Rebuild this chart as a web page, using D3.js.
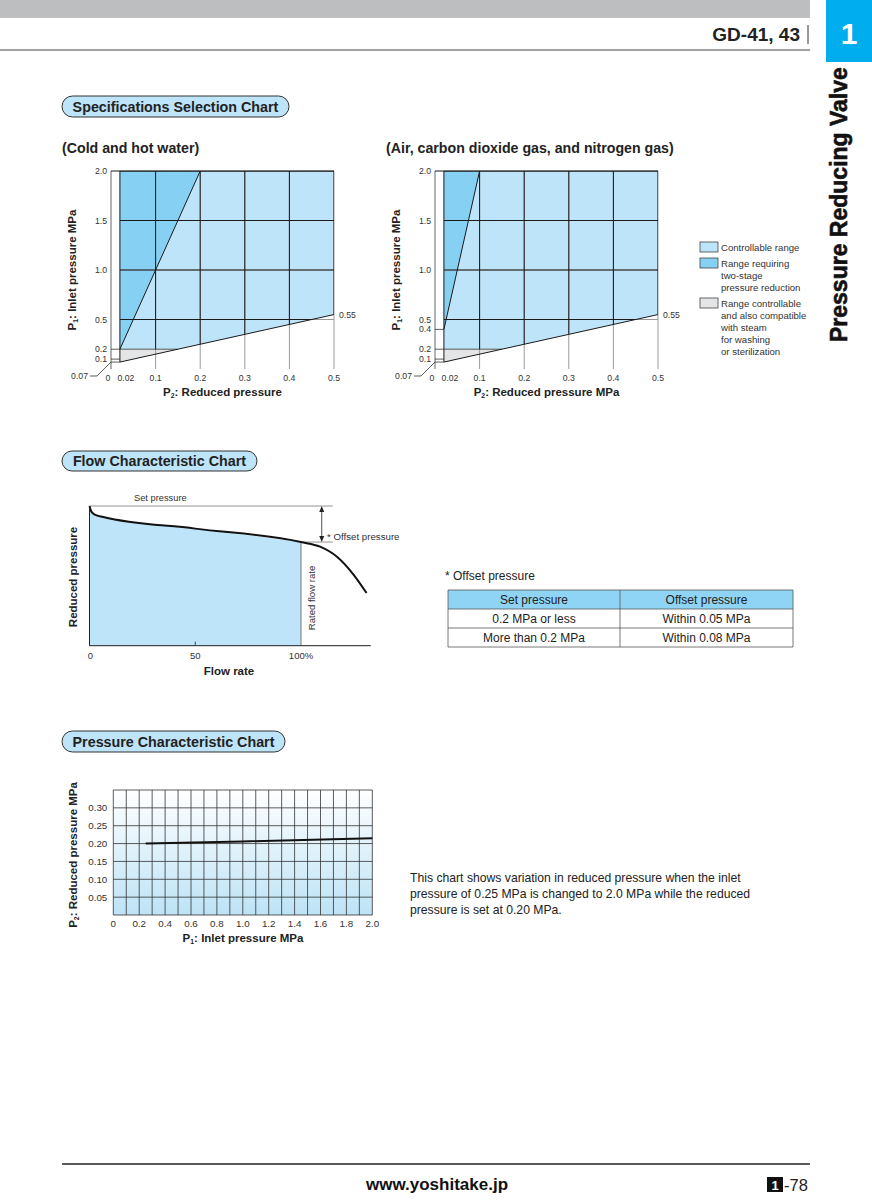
<!DOCTYPE html>
<html>
<head>
<meta charset="utf-8">
<script src="https://cdn.jsdelivr.net/npm/d3@7"></script>
<style>
  body { margin: 0; background: #fff; }
  svg { display: block; font-family: "Liberation Sans", Arial, sans-serif; }
</style>
</head>
<body>
<svg id="page" width="872" height="1200"></svg>
<script>
// ---- данные ----
const specTicksX = [0, 0.02, 0.1, 0.2, 0.3, 0.4, 0.5];
const specGridX = [0.1, 0.2, 0.3, 0.4, 0.5];
const specGridY = [0.5, 1.0, 1.5, 2.0];
const waterTicksY = [0.1, 0.2, 0.5, 1.0, 1.5, 2.0];
const gasTicksY = [0.1, 0.2, 0.4, 0.5, 1.0, 1.5, 2.0];

// границы областей (P2, P1)
const lowerLine = [[0.02, 0.07], [0.5, 0.55]];
const controllable = [[0.02, 0.2], [0.02, 2.0], [0.5, 2.0], [0.5, 0.55], [0.15, 0.2]];
const steamRange = [[0.02, 0.07], [0.02, 0.2], [0.15, 0.2]];
const waterTwoStage = [[0.02, 0.2], [0.02, 2.0], [0.2, 2.0]];
const gasTwoStage = [[0.02, 0.4], [0.02, 2.0], [0.1, 2.0]];

const legendItems = [
  ["Controllable range"],
  ["Range requiring", "two-stage", "pressure reduction"],
  ["Range controllable", "and also compatible", "with steam", "for washing", "or sterilization"]
];

// расходная характеристика: [расход %, давление % от установленного]
const flowCurve = [[0, 100], [0.8, 96.2], [2.5, 93.8], [6.5, 92.1], [50, 83.8], [100, 74.2],
                   [109, 70.9], [117, 63.7], [125, 50.6], [131, 37.7]];
const flowTicks = [0, 50, 100];
const setPressure = 100;
const offsetLevel = 74.2;

const tableHead = ["Set pressure", "Offset pressure"];
const tableRows = [["0.2 MPa or less", "Within 0.05 MPa"],
                   ["More than 0.2 MPa", "Within 0.08 MPa"]];

// характеристика давления: [P1, P2]
const pressureLine = [[0.25, 0.200], [1.0, 0.206], [2.0, 0.215]];
const pressTicksX = [0, 0.2, 0.4, 0.6, 0.8, 1.0, 1.2, 1.4, 1.6, 1.8, 2.0];
const pressTicksY = [0.05, 0.10, 0.15, 0.20, 0.25, 0.30];

const noteLines = ["This chart shows variation in reduced pressure when the inlet",
                   "pressure of 0.25 MPa is changed to 2.0 MPa while the reduced",
                   "pressure is set at 0.20 MPa."];

const C_LIGHT = "#bde4f8";
const C_DARK = "#86d1f3";
const C_GRAY = "#e4e5e6";

const svg = d3.select("#page");

function pLabel(sel, sub, rest) {
  sel.append("tspan").text("P");
  sel.append("tspan").text(sub).attr("font-size", "0.6em").attr("dy", 2);
  sel.append("tspan").text(rest).attr("dy", -2);
}

function pill(x, y, w, h, label) {
  svg.append("rect").attr("x", x).attr("y", y).attr("width", w).attr("height", h)
    .attr("rx", h / 2).attr("fill", C_LIGHT).attr("stroke", "#333").attr("stroke-width", 1);
  svg.append("text").attr("x", x + w / 2).attr("y", y + h / 2 + 5)
    .attr("text-anchor", "middle").attr("font-size", 14.3).attr("font-weight", "bold")
    .attr("fill", "#222").text(label);
}

function drawHeader() {
  svg.append("rect").attr("x", 0).attr("y", 0).attr("width", 810).attr("height", 18).attr("fill", "#bcbec0");
  svg.append("line").attr("x1", 0).attr("x2", 810).attr("y1", 50).attr("y2", 50).attr("stroke", "#444").attr("stroke-width", 1);
  svg.append("text").attr("x", 800).attr("y", 41).attr("text-anchor", "end")
    .attr("font-family", "'Liberation Sans Narrow', 'Liberation Sans', Arial")
    .attr("font-size", 19).attr("font-weight", "bold").attr("fill", "#222").text("GD-41, 43");
  svg.append("line").attr("x1", 808).attr("x2", 808).attr("y1", 25).attr("y2", 44).attr("stroke", "#333");
  svg.append("rect").attr("x", 826).attr("y", 0).attr("width", 46).attr("height", 62).attr("fill", "#00aeef");
  svg.append("text").attr("x", 849).attr("y", 44).attr("text-anchor", "middle")
    .attr("font-size", 30).attr("font-weight", "bold").attr("fill", "#fff").text("1");
  svg.append("text").attr("transform", "translate(847,342) rotate(-90)")
    .attr("font-size", 23).attr("font-weight", "bold").attr("fill", "#111")
    .attr("stroke", "#111").attr("stroke-width", 0.6).text("Pressure Reducing Valve");

  svg.append("line").attr("x1", 62).attr("x2", 810).attr("y1", 1164).attr("y2", 1164).attr("stroke", "#222").attr("stroke-width", 1.5);
  svg.append("text").attr("x", 366).attr("y", 1190).attr("font-size", 17).attr("font-weight", "bold")
    .attr("fill", "#111").text("www.yoshitake.jp");
  svg.append("rect").attr("x", 767).attr("y", 1177).attr("width", 16).attr("height", 15).attr("fill", "#111");
  svg.append("text").attr("x", 775).attr("y", 1190).attr("text-anchor", "middle").attr("font-size", 13)
    .attr("font-weight", "bold").attr("fill", "#fff").text("1");
  svg.append("text").attr("x", 784).attr("y", 1191).attr("font-size", 16.5).attr("fill", "#222").text("-78");
}

function drawSpecChart(id, x0, twoStage, ticksY, title, xTitle) {
  const scX = d3.scaleLinear().domain([0, 0.5]).range([x0, x0 + 223]);
  const scY = d3.scaleLinear().domain([0, 2.0]).range([369, 171]);
  const g = svg.append("g");
  const poly = pts => "M" + pts.map(d => scX(d[0]) + "," + scY(d[1])).join("L") + "Z";

  g.append("text").attr("x", x0 - 49).attr("y", 153).attr("font-size", 14.2).attr("font-weight", "bold")
    .attr("fill", "#222").text(title);

  g.append("path").attr("d", poly(controllable)).attr("fill", C_LIGHT);
  g.append("path").attr("d", poly(twoStage)).attr("fill", C_DARK);
  g.append("path").attr("d", poly(steamRange)).attr("fill", C_GRAY);

  // сетка: серая везде, чёрная внутри рабочей области
  svg.append("clipPath").attr("id", id).append("path").attr("d", poly(controllable));
  const gridColor = [["#9a9a9a", null], ["#1a1a1a", `url(#${id})`]];
  for (let [col, clip] of gridColor) {
    const gg = g.append("g").attr("clip-path", clip);
    gg.selectAll(".vx").data(specGridX).enter().append("line")
      .attr("x1", d => scX(d)).attr("x2", d => scX(d)).attr("y1", scY(0)).attr("y2", scY(2))
      .attr("stroke", col).attr("stroke-width", 1);
    gg.selectAll(".hy").data(specGridY).enter().append("line")
      .attr("x1", scX(0.02)).attr("x2", scX(0.5)).attr("y1", d => scY(d)).attr("y2", d => scY(d))
      .attr("stroke", col).attr("stroke-width", 1);
  }
  // рамка
  g.append("line").attr("x1", scX(0)).attr("x2", scX(0)).attr("y1", scY(0)).attr("y2", scY(2))
    .attr("stroke", "#666").attr("stroke-width", 1);
  g.append("line").attr("x1", scX(0)).attr("x2", scX(0.5)).attr("y1", scY(2)).attr("y2", scY(2))
    .attr("stroke", "#1a1a1a").attr("stroke-width", 1);
  g.append("line").attr("x1", scX(0.02)).attr("x2", scX(0.02)).attr("y1", scY(0.07)).attr("y2", scY(2))
    .attr("stroke", "#1a1a1a").attr("stroke-width", 1);
  // короткие отметки слева
  const shortY = ticksY.filter(d => d < 0.5).concat([0.07]);
  g.selectAll(".sy").data(shortY).enter().append("line")
    .attr("x1", scX(0)).attr("x2", d => d == 0.2 ? scX(0.15) : scX(0.02))
    .attr("y1", d => scY(d)).attr("y2", d => scY(d))
    .attr("stroke", "#333").attr("stroke-width", 0.8);
  // граничные линии
  g.append("line").attr("x1", scX(lowerLine[0][0])).attr("y1", scY(lowerLine[0][1]))
    .attr("x2", scX(lowerLine[1][0])).attr("y2", scY(lowerLine[1][1]))
    .attr("stroke", "#1a1a1a").attr("stroke-width", 1);
  g.append("line").attr("x1", scX(twoStage[0][0])).attr("y1", scY(twoStage[0][1]))
    .attr("x2", scX(twoStage[2][0])).attr("y2", scY(twoStage[2][1]))
    .attr("stroke", "#1a1a1a").attr("stroke-width", 1);

  // подписи делений
  g.selectAll(".ty").data(ticksY).enter().append("text")
    .attr("x", scX(0) - 4).attr("y", d => scY(d) + 3).attr("text-anchor", "end")
    .attr("font-size", 8.7).attr("fill", "#333").text(d => d.toFixed(1));
  g.selectAll(".tx").data(specTicksX).enter().append("text")
    .attr("x", d => scX(d) + (d == 0 ? -3 : d == 0.02 ? 6 : 0)).attr("y", 381)
    .attr("text-anchor", "middle").attr("font-size", 8.7).attr("fill", "#333").text(d => d);
  g.append("text").attr("x", scX(0) - 23).attr("y", 379).attr("text-anchor", "end")
    .attr("font-size", 8.7).attr("fill", "#333").text("0.07");
  g.append("polyline")
    .attr("points", [[scX(0) - 21, 376], [scX(0) - 14, 376], [scX(0), scY(0.07)]].join(" "))
    .attr("fill", "none").attr("stroke", "#333").attr("stroke-width", 0.8);
  g.append("text").attr("x", scX(0.5) + 5).attr("y", scY(0.55) + 3)
    .attr("font-size", 8.7).attr("fill", "#333").text("0.55");

  g.append("text").attr("x", (scX(0) + scX(0.5)) / 2).attr("y", 396).attr("text-anchor", "middle")
    .attr("font-size", 11.5).attr("font-weight", "bold").attr("fill", "#222").call(pLabel, "2", xTitle);
  g.append("text").attr("transform", `translate(${x0 - 35},${scY(1.0)}) rotate(-90)`)
    .attr("text-anchor", "middle").attr("font-size", 11.5).attr("font-weight", "bold").attr("fill", "#222")
    .call(pLabel, "1", ": Inlet pressure MPa");
}

function drawLegend() {
  const fills = [C_LIGHT, C_DARK, C_GRAY];
  const tops = [242, 258, 298];
  legendItems.forEach((lines, i) => {
    svg.append("rect").attr("x", 700).attr("y", tops[i]).attr("width", 18).attr("height", 10)
      .attr("fill", fills[i]).attr("stroke", "#444").attr("stroke-width", 0.8);
    svg.selectAll(null).data(lines).enter().append("text")
      .attr("x", 721).attr("y", (d, j) => tops[i] + 9 + j * 12)
      .attr("font-size", 9.6).attr("fill", "#333").text(d => d);
  });
}

function drawFlowChart() {
  const scX = d3.scaleLinear().domain([0, 100]).range([89.5, 301]);
  const scY = d3.scaleLinear().domain([0, 100]).range([645.7, 506]);
  const g = svg.append("g");
  const line = d3.line().x(d => scX(d[0])).y(d => scY(d[1])).curve(d3.curveMonotoneX);
  const area = d3.area().x(d => scX(d[0])).y0(scY(0)).y1(d => scY(d[1])).curve(d3.curveMonotoneX);

  g.append("path").datum(flowCurve.filter(d => d[0] <= 100)).attr("d", area).attr("fill", C_LIGHT);
  g.append("line").attr("x1", scX(100)).attr("x2", scX(100)).attr("y1", scY(0)).attr("y2", scY(offsetLevel))
    .attr("stroke", "#777").attr("stroke-width", 1);
  g.append("line").attr("x1", scX(0)).attr("x2", scX(115)).attr("y1", scY(setPressure)).attr("y2", scY(setPressure))
    .attr("stroke", "#777").attr("stroke-width", 0.8);
  g.append("line").attr("x1", scX(100)).attr("x2", scX(115)).attr("y1", scY(offsetLevel)).attr("y2", scY(offsetLevel))
    .attr("stroke", "#777").attr("stroke-width", 0.8);
  g.append("path").datum(flowCurve).attr("d", line).attr("fill", "none")
    .attr("stroke", "#111").attr("stroke-width", 2);

  // стрелка offset
  const ax = scX(109.8);
  g.append("line").attr("x1", ax).attr("x2", ax).attr("y1", scY(setPressure) + 4).attr("y2", scY(offsetLevel) - 4)
    .attr("stroke", "#222").attr("stroke-width", 0.8);
  g.append("path").attr("d", `M${ax - 2.5},${scY(setPressure) + 6}L${ax},${scY(setPressure)}L${ax + 2.5},${scY(setPressure) + 6}Z`).attr("fill", "#222");
  g.append("path").attr("d", `M${ax - 2.5},${scY(offsetLevel) - 6}L${ax},${scY(offsetLevel)}L${ax + 2.5},${scY(offsetLevel) - 6}Z`).attr("fill", "#222");

  // оси
  g.append("line").attr("x1", scX(0)).attr("x2", scX(133)).attr("y1", scY(0)).attr("y2", scY(0))
    .attr("stroke", "#222").attr("stroke-width", 1);
  g.append("line").attr("x1", scX(0)).attr("x2", scX(0)).attr("y1", scY(0)).attr("y2", scY(setPressure))
    .attr("stroke", "#222").attr("stroke-width", 1);
  g.append("line").attr("x1", scX(50)).attr("x2", scX(50)).attr("y1", scY(0)).attr("y2", scY(0) - 4)
    .attr("stroke", "#222").attr("stroke-width", 0.8);
  g.selectAll(".fx").data(flowTicks).enter().append("text")
    .attr("x", d => scX(d) + (d == 0 ? 1 : 0)).attr("y", 659).attr("text-anchor", "middle")
    .attr("font-size", 9.5).attr("fill", "#333").text(d => d == 100 ? "100%" : d);

  g.append("text").attr("x", 134).attr("y", 501).attr("font-size", 9.3).attr("fill", "#333").text("Set pressure");
  g.append("text").attr("x", 327).attr("y", 540).attr("font-size", 9.7).attr("fill", "#333").text("* Offset pressure");
  g.append("text").attr("transform", `translate(${scX(100) + 14},598) rotate(-90)`).attr("text-anchor", "middle")
    .attr("font-size", 9.6).attr("fill", "#333").text("Rated flow rate");
  g.append("text").attr("x", 229).attr("y", 675).attr("text-anchor", "middle").attr("font-size", 11.5)
    .attr("font-weight", "bold").attr("fill", "#222").text("Flow rate");
  g.append("text").attr("transform", "translate(77,577) rotate(-90)").attr("text-anchor", "middle")
    .attr("font-size", 11.5).attr("font-weight", "bold").attr("fill", "#222").text("Reduced pressure");
}

function drawTable() {
  const colX = [448, 620, 793];
  const rowY = [590, 609, 628, 647];
  svg.append("text").attr("x", 445).attr("y", 580).attr("font-size", 12).attr("fill", "#222").text("* Offset pressure");
  svg.append("rect").attr("x", colX[0]).attr("y", rowY[0]).attr("width", colX[2] - colX[0]).attr("height", rowY[1] - rowY[0])
    .attr("fill", "#8fd4f4");
  const all = [tableHead].concat(tableRows);
  all.forEach((row, r) => {
    row.forEach((cell, c) => {
      svg.append("text").attr("x", (colX[c] + colX[c + 1]) / 2).attr("y", rowY[r] + 14)
        .attr("text-anchor", "middle").attr("font-size", 12).attr("fill", "#222").text(cell);
    });
  });
  svg.selectAll(".hl").data(rowY).enter().append("line")
    .attr("x1", colX[0]).attr("x2", colX[2]).attr("y1", d => d).attr("y2", d => d)
    .attr("stroke", "#555").attr("stroke-width", 0.8);
  svg.selectAll(".vl").data(colX).enter().append("line")
    .attr("x1", d => d).attr("x2", d => d).attr("y1", rowY[0]).attr("y2", rowY[3])
    .attr("stroke", "#555").attr("stroke-width", 0.8);
}

function drawPressureChart() {
  const scX = d3.scaleLinear().domain([0, 2.0]).range([113.3, 372.3]);
  const scY = d3.scaleLinear().domain([0, 0.35]).range([915, 790]);
  const g = svg.append("g");

  const grad = svg.append("defs").append("linearGradient").attr("id", "pgrad")
    .attr("x1", 0).attr("x2", 0).attr("y1", 0).attr("y2", 1);
  grad.append("stop").attr("offset", "0%").attr("stop-color", "#ffffff");
  grad.append("stop").attr("offset", "100%").attr("stop-color", "#bde3f6");
  g.append("rect").attr("x", scX(0)).attr("y", scY(0.35)).attr("width", scX(2) - scX(0))
    .attr("height", scY(0) - scY(0.35)).attr("fill", "url(#pgrad)");

  const gridX = d3.range(0, 21).map(i => i / 10);
  const gridY = d3.range(0, 8).map(i => i * 0.05);
  g.selectAll(".gx").data(gridX).enter().append("line")
    .attr("x1", d => scX(d)).attr("x2", d => scX(d)).attr("y1", scY(0)).attr("y2", scY(0.35))
    .attr("stroke", "#333").attr("stroke-width", 0.8);
  g.selectAll(".gy").data(gridY).enter().append("line")
    .attr("x1", scX(0)).attr("x2", scX(2)).attr("y1", d => scY(d)).attr("y2", d => scY(d))
    .attr("stroke", "#333").attr("stroke-width", 0.8);

  g.append("path").datum(pressureLine)
    .attr("d", d3.line().x(d => scX(d[0])).y(d => scY(d[1])))
    .attr("fill", "none").attr("stroke", "#111").attr("stroke-width", 2);

  g.selectAll(".px").data(pressTicksX).enter().append("text")
    .attr("x", d => scX(d)).attr("y", 927).attr("text-anchor", "middle")
    .attr("font-size", 9.8).attr("fill", "#333").text(d => d == 0 ? "0" : d.toFixed(1));
  g.selectAll(".py").data(pressTicksY).enter().append("text")
    .attr("x", scX(0) - 6).attr("y", d => scY(d) + 3.5).attr("text-anchor", "end")
    .attr("font-size", 9.8).attr("fill", "#333").text(d => d.toFixed(2));

  g.append("text").attr("x", 243).attr("y", 942).attr("text-anchor", "middle").attr("font-size", 11.5)
    .attr("font-weight", "bold").attr("fill", "#222").call(pLabel, "1", ": Inlet pressure MPa");
  g.append("text").attr("transform", "translate(77,855) rotate(-90)").attr("text-anchor", "middle")
    .attr("font-size", 11.5).attr("font-weight", "bold").attr("fill", "#222")
    .call(pLabel, "2", ": Reduced pressure MPa");

  svg.selectAll(".note").data(noteLines).enter().append("text")
    .attr("x", 410).attr("y", (d, i) => 882 + i * 16).attr("font-size", 12.2).attr("fill", "#222").text(d => d);
}

drawHeader();
pill(62, 96, 227, 21, "Specifications Selection Chart");
drawSpecChart("clipWater", 111, waterTwoStage, waterTicksY, "(Cold and hot water)", ": Reduced pressure");
drawSpecChart("clipGas", 435, gasTwoStage, gasTicksY, "(Air, carbon dioxide gas, and nitrogen gas)", ": Reduced pressure MPa");
drawLegend();
pill(62, 451, 195, 20, "Flow Characteristic Chart");
drawFlowChart();
drawTable();
pill(62, 731, 223, 21, "Pressure Characteristic Chart");
drawPressureChart();
</script>
</body>
</html>
